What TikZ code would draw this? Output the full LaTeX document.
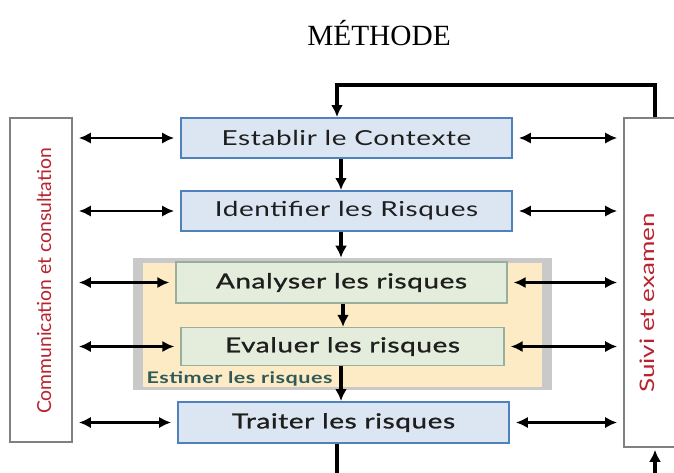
\documentclass[tikz,border=0pt]{standalone}
\usepackage{fontspec}
\setmainfont{Liberation Serif}
\newfontfamily\boxfont{Lato}[FakeStretch=1.35, LetterSpace=3]
\newfontfamily\boxfontmed{Lato}[FakeStretch=1.35, LetterSpace=3, FakeBold=1.2]
\newfontfamily\sidefont{Lato}
\usetikzlibrary{arrows.meta}
\definecolor{CBlueFill}{HTML}{DCE6F2}
\definecolor{CBlueLine}{HTML}{4F81BD}
\definecolor{CGreenFill}{HTML}{E4EDDC}
\definecolor{CGreenLine}{HTML}{9AAE9E}
\definecolor{CBeige}{HTML}{FDEBC6}
\definecolor{CShade}{HTML}{C9C9C9}
\definecolor{CRed}{HTML}{B8232F}
\definecolor{CTeal}{HTML}{2F5A5A}
\definecolor{CText}{HTML}{1E1E1E}

\begin{document}
\begin{tikzpicture}[x=0.75pt, y=-0.75pt,
    bluebox/.style={draw=CBlueLine, fill=CBlueFill, line width=1.5pt, text=CText,
        minimum width=248pt, minimum height=30pt, font=\boxfont\fontsize{15.5}{18}\selectfont},
    greenbox/.style={draw=CGreenLine, fill=CGreenFill, line width=1pt, text=CText,
        minimum height=29pt, font=\boxfontmed\fontsize{15.5}{18}\selectfont},
    sidebox/.style={draw=gray, line width=1.2pt, fill=white},
    sidetext/.style={text=CRed, rotate=90, font=\sidefont\fontsize{14.5}{18}\selectfont},
    link/.style={{Latex[length=9pt,width=8.5pt]}-{Latex[length=9pt,width=8.5pt]}, line width=1.8pt,
        shorten <=4.5pt, shorten >=4.5pt},
    flow/.style={-{Latex[length=9pt,width=9pt]}, line width=2.8pt},
    loop/.style={line width=2.4pt}]
    \useasboundingbox (0,0) rectangle (674,472);

    \node [font=\fontsize{22}{26}\selectfont] (title) at (379,33) {MÉTHODE};

    % side columns
    \node [sidebox, minimum width=46.5pt, minimum height=243pt] (comm) at (41,280) {};
    \node [sidetext] (commtxt) at (44,281) {Communication et consultation};
    \node [sidebox, minimum width=42pt, minimum height=246.75pt] (suivi) at (652,282.5) {};
    \node [sidetext, font=\sidefont\fontsize{15}{18}\selectfont, xscale=1.3] (suivitxt) at (647,303) {Suivi et examen};

    % estimation group
    \node [fill=CShade, minimum width=314.25pt, minimum height=99pt, inner sep=0pt] (estim) at (342.5,324) {};
    \node [fill=CBeige, minimum width=299.25pt, minimum height=93pt, inner sep=0pt] (estimin) at (342.5,324.5) {};
    \node [anchor=west, text=CTeal, inner sep=1pt, font=\boxfont\bfseries\fontsize{12}{14}\selectfont] (estimlbl) at (145,379) {Estimer les risques};

    % process steps
    \node [bluebox] (establir) at (346.5,138) {Establir le Contexte};
    \node [bluebox] (ident) at (346.5,211) {Identifier les Risques};
    \node [greenbox, minimum width=248.25pt, minimum height=30.75pt] (analyser) at (341.5,282.5) {Analyser les risques};
    \node [greenbox, minimum width=242.25pt, minimum height=28.5pt] (evaluer) at (342.5,346.5) {Evaluer les risques};
    \node [bluebox, font=\boxfontmed\fontsize{15.5}{18}\selectfont, minimum height=30.75pt] (traiter) at (343.5,422.5) {Traiter les risques};

    \coordinate (axis) at (341,0);
    \coordinate (loopl) at (337,85);
    \coordinate (loopr) at (655,85);
    \coordinate (loopbl) at (337,480);
    \coordinate (loopbr) at (655,480);

    % vertical flow
    \draw [flow] (establir.south -| axis) -- (ident.north -| axis);
    \draw [flow] (ident.south -| axis) -- (estim.north -| axis);
    \draw [flow] ([xshift=1.5pt]analyser.south -| axis) -- ([xshift=1.5pt]evaluer.north -| axis);
    \draw [flow] (evaluer.south -| axis) -- (traiter.north -| axis);

    % feedback loop
    \draw [loop, -{Latex[length=9pt,width=9pt]}] (suivi.north -| loopr) -- (loopr) -- (loopl) -- (establir.north -| loopl);
    \draw [loop] (traiter.south -| loopl) -- (loopbl);
    \draw [loop, -{Latex[length=9pt,width=9pt]}] (loopbr) -- ([yshift=-1.5pt]suivi.south -| loopbr);

    % links to the side columns
    \foreach \step in {establir, ident, analyser, evaluer, traiter} {
        \draw [link] (comm.east |- \step.west) -- (\step.west);
        \draw [link] (\step.east) -- (suivi.west |- \step.east);
    }
\end{tikzpicture}
\end{document}
